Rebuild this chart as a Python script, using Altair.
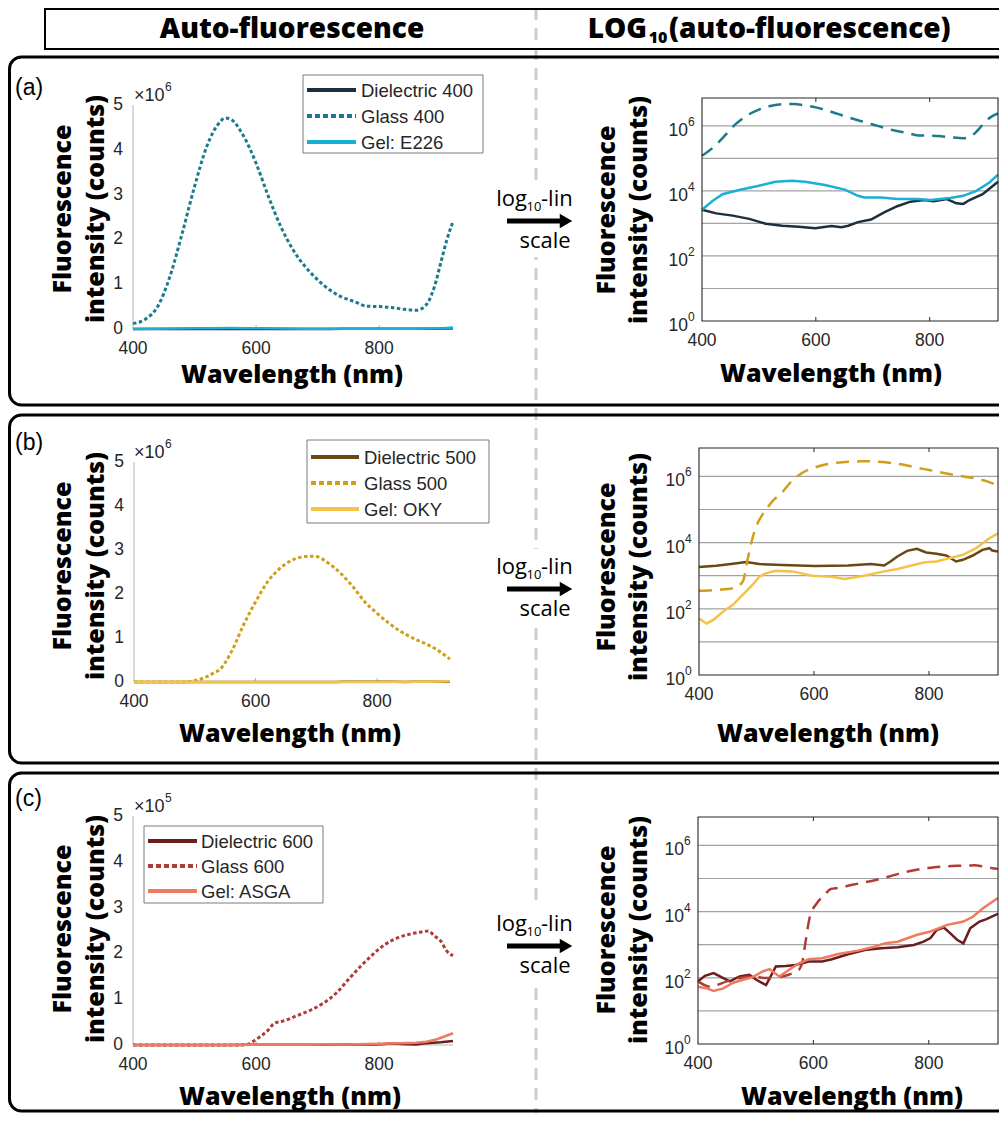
import altair as alt
import pandas as pd

# ---------------- data: wavelength (nm) and intensity (counts) ----------------
# Row (a)
WL_DIEL_400 = [400, 425, 454, 483, 512, 541, 570, 599, 627, 645, 657, 674, 697, 720, 743, 766, 790, 807, 830, 847, 859, 870, 893, 920]
CNT_DIEL_400 = [2630, 2040, 1740, 1380, 977, 851, 794, 708, 832, 759, 851, 1100, 1320, 2190, 3390, 4680, 5250, 4790, 5620, 4170, 3980, 5250, 7940, 19100]
WL_GLASS_400 = [400, 420, 440, 460, 480, 500, 520, 540, 550, 560, 580, 600, 620, 640, 660, 680, 700, 720, 740, 760, 780, 800, 820, 840, 860, 870, 880, 890, 900, 910, 920]
CNT_GLASS_400 = [120000, 220000, 500000, 1170000, 2140000, 3180000, 4080000, 4600000, 4710000, 4670000, 4300000, 3700000, 2960000, 2290000, 1770000, 1390000, 1100000, 870000, 710000, 610000, 510000, 500000, 480000, 440000, 420000, 460000, 610000, 950000, 1470000, 1990000, 2400000]
WL_GEL_E226 = [400, 419, 436, 465, 500, 529, 558, 581, 616, 651, 674, 685, 714, 743, 778, 801, 836, 859, 882, 905, 920]
CNT_GEL_E226 = [2630, 5010, 7940, 10700, 14500, 19100, 20400, 19100, 15100, 11000, 7080, 6310, 6310, 5620, 5620, 5250, 6030, 7080, 10000, 18200, 31600]

# Row (b)
WL_DIEL_500 = [400, 430, 459, 482, 505, 545, 602, 659, 699, 722, 733, 745, 762, 779, 795, 813, 830, 847, 859, 876, 893, 905, 910, 920]
CNT_DIEL_500 = [1820, 2000, 2290, 2570, 2240, 2090, 1950, 2040, 2240, 2040, 2690, 3800, 5620, 6460, 5010, 4570, 4070, 2690, 3020, 4070, 6030, 6760, 5750, 5370]
WL_GLASS_500 = [400, 430, 459, 476, 485, 493, 500, 510, 520, 533, 540, 560, 580, 600, 620, 640, 660, 680, 690, 700, 720, 740, 760, 780, 800, 820, 840, 860, 880, 900, 920]
CNT_GLASS_500 = [350, 372, 417, 661, 3390, 13500, 32000, 69000, 120000, 220000, 270000, 680000, 1290000, 1820000, 2280000, 2580000, 2770000, 2850000, 2860000, 2850000, 2700000, 2470000, 2170000, 1820000, 1560000, 1330000, 1140000, 990000, 870000, 720000, 520000]
WL_GEL_OKY = [400, 413, 425, 442, 459, 476, 493, 505, 516, 533, 562, 597, 631, 653, 687, 722, 745, 768, 791, 813, 836, 859, 882, 905, 920]
CNT_GEL_OKY = [51, 36, 46, 83, 132, 263, 525, 933, 1175, 1413, 1349, 1000, 933, 794, 1000, 1349, 1585, 1995, 2512, 2692, 3388, 4266, 6761, 13490, 19050]

# Row (c)
WL_DIEL_600 = [400, 412, 427, 444, 455, 472, 489, 501, 518, 535, 552, 569, 592, 615, 632, 660, 689, 717, 746, 774, 791, 803, 814, 826, 837, 849, 860, 872, 888, 900, 912, 920]
CNT_DIEL_600 = [78, 115, 138, 98, 78, 110, 123, 87, 60, 219, 229, 245, 309, 309, 363, 513, 692, 776, 832, 977, 1230, 1585, 2818, 3311, 2239, 1413, 1096, 3162, 5012, 5888, 7413, 8511]
WL_GLASS_600 = [400, 421, 450, 472, 495, 518, 546, 564, 575, 581, 586, 594, 606, 620, 630, 643, 670, 690, 710, 730, 750, 770, 790, 810, 830, 850, 870, 880, 890, 900, 910, 920]
CNT_GLASS_600 = [78, 54, 78, 98, 110, 98, 110, 138, 174, 309, 1096, 7080, 17800, 33000, 48000, 52000, 66000, 77000, 92000, 113000, 143000, 172000, 198000, 220000, 234000, 242000, 247000, 249000, 238000, 227000, 205000, 195000]
WL_GEL_ASGA = [400, 415, 427, 444, 461, 478, 495, 512, 524, 541, 558, 575, 592, 615, 643, 677, 706, 723, 746, 780, 803, 832, 860, 877, 894, 920]
CNT_GEL_ASGA = [54, 48, 40, 48, 71, 87, 105, 155, 182, 110, 174, 275, 363, 389, 525, 661, 871, 1096, 1230, 1995, 2512, 3981, 5012, 7079, 12590, 25700]

NAMES_A = ["Dielectric 400", "Glass 400", "Gel: E226"]
NAMES_B = ["Dielectric 500", "Glass 500", "Gel: OKY"]
NAMES_C = ["Dielectric 600", "Glass 600", "Gel: ASGA"]
COLORS_A = ["#1d2f3c", "#1b7b8c", "#19b0d5"]
COLORS_B = ["#6a4813", "#d29e1a", "#f4c246"]
COLORS_C = ["#6b1e1e", "#b03c36", "#ef7a60"]

X_DOMAIN = [400, 920]
X_TICKS = [400, 600, 800]
X_INNER_TICKS = [600, 800]
LIN_TICKS_6 = [0, 1000000, 2000000, 3000000, 4000000, 5000000]
LIN_TICKS_5 = [0, 100000, 200000, 300000, 400000, 500000]
LOG_TICKS = [1, 100, 10000, 1000000]
LOG_EXPONENTS = ["0", "2", "4", "6"]
LOG_GRID = [10, 100, 1000, 10000, 100000, 1000000]
LOG_TOP = 7200000

# ---------------- layout helpers ----------------
W, H = 991, 1105
M = 8


def c(v):
    return v - M


ONE = pd.DataFrame({"k": [0]})
TF = "Open Sans"
NF = "Liberation Sans"
INK = "#262626"


def text(s, x, y, size, font=NF, weight="normal", align="center", baseline="middle", angle=0, color="black"):
    props = dict(text=s, fontSize=size, font=font, fontWeight=weight, align=align, baseline=baseline, color=color)
    if angle:
        props["angle"] = angle
    return alt.Chart(ONE).mark_text(**props).encode(x=alt.value(c(x)), y=alt.value(c(y)))


def box(x1, y1, x2, y2, stroke="black", sw=1.0, fill="white", fo=1.0, radius=0):
    props = dict(stroke=stroke, strokeWidth=sw, fill=fill, fillOpacity=fo)
    if radius:
        props["cornerRadius"] = radius
    return alt.Chart(ONE).mark_rect(**props).encode(
        x=alt.value(c(x1)), x2=alt.value(c(x2)), y=alt.value(c(y1)), y2=alt.value(c(y2)))


def seg(x1, y1, x2, y2, color, sw, dash=None):
    props = dict(color=color, strokeWidth=sw)
    if dash:
        props["strokeDash"] = dash
    return alt.Chart(ONE).mark_rule(**props).encode(
        x=alt.value(c(x1)), x2=alt.value(c(x2)), y=alt.value(c(y1)), y2=alt.value(c(y2)))


def line_layers(series, xs, ys):
    out = []
    for wl, cnt, color, dash, sw, interp in series:
        df = pd.DataFrame({"wl": wl, "cnt": cnt})
        props = dict(color=color, strokeWidth=sw, interpolate=interp)
        if dash:
            props["strokeDash"] = dash
        out.append(alt.Chart(df).mark_line(**props).encode(
            x=alt.X("wl:Q", scale=xs, axis=None),
            y=alt.Y("cnt:Q", scale=ys, axis=None)))
    return out


def x_labels(xs, bottom):
    df = pd.DataFrame({"t": X_TICKS, "s": [str(t) for t in X_TICKS]})
    return alt.Chart(df).mark_text(font=NF, fontSize=17.5, color=INK, align="center", baseline="middle").encode(
        x=alt.X("t:Q", scale=xs, axis=None), y=alt.value(c(bottom) + 20), text="s:N")


def inner_x_ticks(xs, yr, color):
    tk = pd.DataFrame({"t": X_INNER_TICKS})
    return [
        alt.Chart(tk).mark_rule(color=color, strokeWidth=1).encode(
            x=alt.X("t:Q", scale=xs, axis=None), y=alt.value(c(yr[0])), y2=alt.value(c(yr[0]) - 4)),
        alt.Chart(tk).mark_rule(color=color, strokeWidth=1).encode(
            x=alt.X("t:Q", scale=xs, axis=None), y=alt.value(c(yr[1])), y2=alt.value(c(yr[1]) + 4)),
    ]


def lin_panel(series, xr, yr, ticks, exp):
    xs = alt.Scale(domain=X_DOMAIN, range=[c(xr[0]), c(xr[1])], nice=False, zero=False)
    ys = alt.Scale(domain=[0, ticks[-1]], range=[c(yr[0]), c(yr[1])], nice=False, zero=False)
    layers = []
    # axis lines
    layers.append(alt.Chart(ONE).mark_rule(color="#b5b5b5", strokeWidth=1).encode(
        x=alt.XDatum(X_DOMAIN[0], type="quantitative", scale=xs, axis=None),
        x2=alt.X2Datum(X_DOMAIN[1]),
        y=alt.YDatum(0, type="quantitative", scale=ys, axis=None)))
    layers.append(alt.Chart(ONE).mark_rule(color="#b5b5b5", strokeWidth=1).encode(
        x=alt.XDatum(X_DOMAIN[0], type="quantitative", scale=xs, axis=None),
        y=alt.YDatum(0, type="quantitative", scale=ys, axis=None),
        y2=alt.Y2Datum(ticks[-1])))
    layers.append(inner_x_ticks(xs, yr, "#b5b5b5")[0])
    layers.extend(line_layers(series, xs, ys))
    layers.append(x_labels(xs, yr[0]))
    ydf = pd.DataFrame({"v": ticks, "s": [str(int(round(v / 10 ** exp))) for v in ticks]})
    layers.append(alt.Chart(ydf).mark_text(font=NF, fontSize=17.5, color=INK, align="right", baseline="middle").encode(
        y=alt.Y("v:Q", scale=ys, axis=None), x=alt.value(c(xr[0]) - 10), text="s:N"))
    return alt.layer(*layers)


def log_panel(series, xr, yr):
    xs = alt.Scale(domain=X_DOMAIN, range=[c(xr[0]), c(xr[1])], nice=False, zero=False)
    ys = alt.Scale(type="log", domain=[1, LOG_TOP], range=[c(yr[0]), c(yr[1])], nice=False)
    layers = []
    layers.append(alt.Chart(pd.DataFrame({"g": LOG_GRID})).mark_rule(color="#a3a3a3", strokeWidth=1.2).encode(
        y=alt.Y("g:Q", scale=ys, axis=None),
        x=alt.XDatum(X_DOMAIN[0], type="quantitative", scale=xs, axis=None),
        x2=alt.X2Datum(X_DOMAIN[1])))
    layers.extend(inner_x_ticks(xs, yr, INK))
    layers.extend(line_layers(series, xs, ys))
    layers.append(alt.Chart(ONE).mark_rect(fill="white", fillOpacity=0, stroke=INK, strokeWidth=1.1).encode(
        x=alt.XDatum(X_DOMAIN[0], type="quantitative", scale=xs, axis=None),
        x2=alt.X2Datum(X_DOMAIN[1]),
        y=alt.YDatum(1, type="quantitative", scale=ys, axis=None),
        y2=alt.Y2Datum(LOG_TOP)))
    layers.append(x_labels(xs, yr[0]))
    ldf = pd.DataFrame({"v": LOG_TICKS, "e": LOG_EXPONENTS})
    layers.append(alt.Chart(ldf).mark_text(text="10", font=NF, fontSize=17.5, color=INK, align="right",
                                           baseline="middle", dy=5).encode(
        y=alt.Y("v:Q", scale=ys, axis=None), x=alt.value(c(xr[0]) - 14)))
    layers.append(alt.Chart(ldf).mark_text(font=NF, fontSize=12, color=INK, align="left",
                                           baseline="middle", dy=-4).encode(
        y=alt.Y("v:Q", scale=ys, axis=None), x=alt.value(c(xr[0]) - 14), text="e:N"))
    return alt.layer(*layers)


def legend(bx, by, sx, tx, ys, names, colors):
    out = [box(bx[0], by[0], bx[1], by[1], stroke="#7a7a7a", sw=1, fill="white", fo=1)]
    dashes = [None, [5, 3], None]
    for y, n, col, d in zip(ys, names, colors, dashes):
        out.append(seg(sx[0], y, sx[1], y, col, 4, d))
        out.append(text(n, tx, y + 1, 18.5, align="left", color=INK))
    return out


def middle(a):
    out = [box(494, a - 40, 592, a + 36, stroke="white", sw=0, fill="white", fo=1)]
    out.append(text("log", 527, a - 15, 22, font=TF, align="right", baseline="alphabetic"))
    out.append(text("10", 534, a - 10, 13, font=TF, align="center", baseline="alphabetic"))
    out.append(text("-lin", 541, a - 15, 22, font=TF, align="left", baseline="alphabetic"))
    out.append(seg(507, a, 561, a, "black", 5))
    out.append(alt.Chart(ONE).mark_point(shape="triangle-right", filled=True, size=210, color="black", opacity=1)
               .encode(x=alt.value(c(566)), y=alt.value(c(a))))
    out.append(text("scale", 545, a + 27, 22, font=TF, align="center", baseline="alphabetic"))
    return out


ROWS = [
    dict(tag="(a)", tag_y=88, frame=(57, 405), names=NAMES_A, colors=COLORS_A,
         data=[(WL_DIEL_400, CNT_DIEL_400), (WL_GLASS_400, CNT_GLASS_400), (WL_GEL_E226, CNT_GEL_E226)],
         lx=(133, 453), ly=(329, 105), rx=(702, 998), ry=(321, 98), ticks=LIN_TICKS_6, exp=6,
         leg_bx=(303, 483), leg_by=(75, 153), leg_sx=(307, 356), leg_tx=361, leg_y=[90, 116, 142],
         xt_l=(292, 375), xt_r=(831, 374), yt_l=209, yt_r=210, arrow=221),
    dict(tag="(b)", tag_y=443, frame=(415, 763), names=NAMES_B, colors=COLORS_B,
         data=[(WL_DIEL_500, CNT_DIEL_500), (WL_GLASS_500, CNT_GLASS_500), (WL_GEL_OKY, CNT_GEL_OKY)],
         lx=(134, 450), ly=(682, 462), rx=(699, 998), ry=(675, 448), ticks=LIN_TICKS_6, exp=6,
         leg_bx=(307, 489), leg_by=(440, 523), leg_sx=(311, 359), leg_tx=364, leg_y=[457, 483, 509],
         xt_l=(290, 734), xt_r=(828, 734), yt_l=566, yt_r=567, arrow=589),
    dict(tag="(c)", tag_y=799, frame=(773, 1111), names=NAMES_C, colors=COLORS_C,
         data=[(WL_DIEL_600, CNT_DIEL_600), (WL_GLASS_600, CNT_GLASS_600), (WL_GEL_ASGA, CNT_GEL_ASGA)],
         lx=(133, 453), ly=(1045, 816), rx=(698, 998), ry=(1044, 817), ticks=LIN_TICKS_5, exp=5,
         leg_bx=(144, 323), leg_by=(826, 903), leg_sx=(148, 197), leg_tx=201, leg_y=[841, 866, 891],
         xt_l=(290, 1097), xt_r=(852, 1097), yt_l=929, yt_r=930, arrow=946),
]

back = []
front = []
panels = []

# dashed separator and header
back.append(seg(536, 8, 536, 8 + H, "#cccccc", 3, [12, 8]))
back.append(box(45, 9, 1030, 49, stroke="black", sw=2, fill="white", fo=0))
front.append(text("Auto-fluorescence", 292, 38, 28, font=TF, weight=800, baseline="alphabetic"))
front.append(text("LOG", 647, 38, 28, font=TF, weight=800, align="right", baseline="alphabetic"))
front.append(text("10", 658, 43, 16, font=TF, weight=800, align="center", baseline="alphabetic"))
front.append(text("(auto-fluorescence)", 669, 38, 28, font=TF, weight=800, align="left", baseline="alphabetic"))

for r in ROWS:
    back.append(box(9.5, r["frame"][0], 1030, r["frame"][1], stroke="black", sw=3, fill="white", fo=0, radius=12))
    back.extend(middle(r["arrow"]))
    lin_series = []
    log_series = []
    for k, (wl, cnt) in enumerate(r["data"]):
        col = r["colors"][k]
        if k == 1:
            lin_series.append((wl, cnt, col, [3.5, 2.5], 3, "monotone"))
            log_series.append((wl, cnt, col, [13, 8], 2.5, "monotone"))
        else:
            lin_series.append((wl, cnt, col, None, 2.5, "linear"))
            log_series.append((wl, cnt, col, None, 2.5, "linear"))
    panels.append(lin_panel(lin_series, r["lx"], r["ly"], r["ticks"], r["exp"]))
    panels.append(log_panel(log_series, r["rx"], r["ry"]))

    # texts
    front.append(text(r["tag"], 15, r["tag_y"], 23, align="left"))
    top = r["ly"][1]
    front.append(text("\u00d710", 134, top - 9, 18, align="left", color=INK))
    front.append(text(str(r["exp"]), 165, top - 18, 12, align="left", color=INK))
    front.append(text("Wavelength (nm)", r["xt_l"][0], r["xt_l"][1], 25, font=TF, weight=800))
    front.append(text("Wavelength (nm)", r["xt_r"][0], r["xt_r"][1], 25, font=TF, weight=800))
    front.append(text("Fluorescence", 63, r["yt_l"], 25, font=TF, weight=800, angle=270))
    front.append(text("intensity (counts)", 96, r["yt_l"], 25, font=TF, weight=800, angle=270))
    front.append(text("Fluorescence", 607, r["yt_r"], 25, font=TF, weight=800, angle=270))
    front.append(text("intensity (counts)", 639, r["yt_r"], 25, font=TF, weight=800, angle=270))
    front.extend(legend(r["leg_bx"], r["leg_by"], r["leg_sx"], r["leg_tx"], r["leg_y"], r["names"], r["colors"]))

chart = (
    alt.layer(*back, *panels, *front)
    .properties(width=W, height=H, padding=0, background="white",
                autosize=alt.AutoSizeParams(type="none"))
    .resolve_scale(x="independent", y="independent")
    .configure_view(stroke="transparent")
)

chart.save("out.html", embed_options={"renderer": "svg", "actions": False})
